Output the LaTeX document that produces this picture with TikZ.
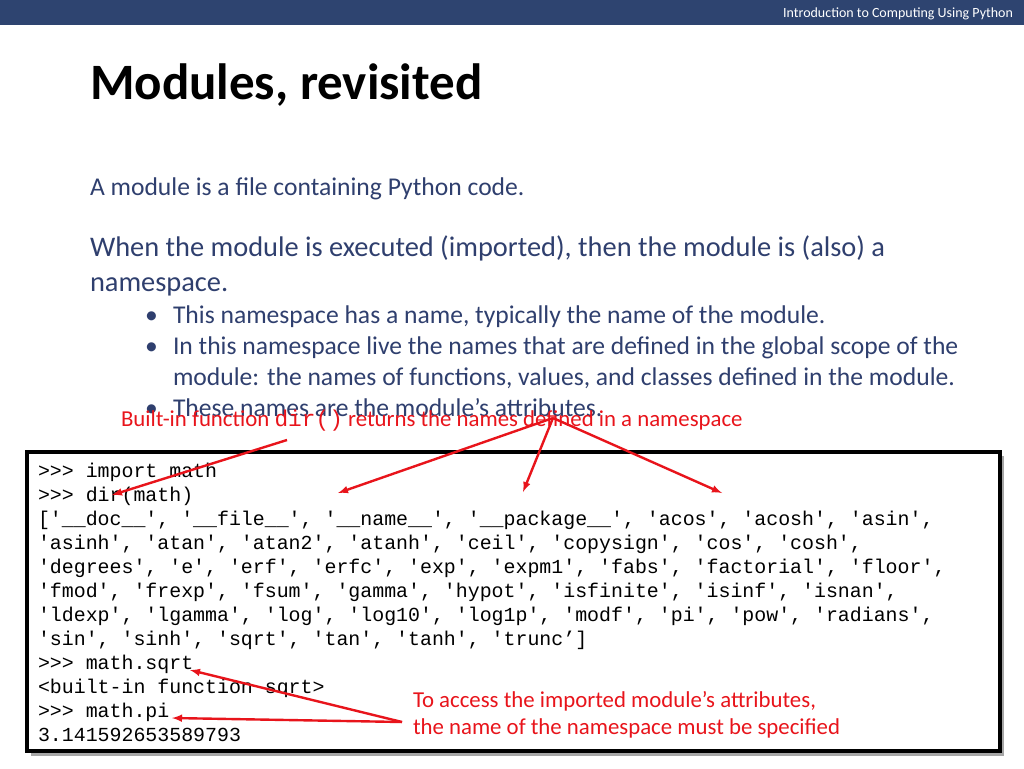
\documentclass[tikz,border=0pt]{standalone}
\usepackage{fontspec}
\setmainfont{Carlito}
\setmonofont{Liberation Mono}
\usetikzlibrary{arrows}
\definecolor{barblue}{HTML}{2E4470}
\definecolor{textblue}{HTML}{2F3F6E}
\definecolor{noteRed}{HTML}{E8141B}
\tikzstyle{slide}=[x=1pt, y=-1pt, inner sep=0pt, outer sep=0pt]
\tikzstyle{body}=[anchor=base west, text=textblue, font=\fontsize{25.6}{30}\selectfont]
\tikzstyle{bodyL}=[body, font=\fontsize{28.4}{33}\selectfont]
\tikzstyle{note}=[anchor=base west, text=noteRed, font=\fontsize{22.8}{27}\selectfont]
\tikzstyle{code}=[anchor=base west, font=\fontsize{19.9}{24}\ttfamily]
\tikzstyle{ptr}=[draw=noteRed, line width=2.4pt, -latex]
\newcommand{\bodyX}{90}
\newcommand{\itemX}{173}
\newcommand{\dotX}{145}
\newcommand{\codeX}{38}
\begin{document}
\begin{tikzpicture}[slide]
	\useasboundingbox (0,0) rectangle (1024,768);
	\fill[barblue] (0,0) rectangle (1024,25);
	\node[anchor=base east, text=white, font=\fontsize{14}{16}\selectfont] (hdr) at (1013,18) {Introduction to Computing Using Python};
	\node[anchor=base west, font=\fontsize{51}{58}\bfseries\selectfont] (title) at (\bodyX,99) {Modules, revisited};
	%%
	\node[body] (p1) at (\bodyX,195) {A module is a file containing Python code.};
	\node[bodyL] (p2a) at (\bodyX,256) {When the module is executed (imported), then the module is (also) a};
	\node[bodyL] (p2b) at (\bodyX,291) {namespace.};
	\node[body] (b1) at (\itemX,323) {This namespace has a name, typically the name of the module.};
	\node[body] (b2a) at (\itemX,354) {In this namespace live the names that are defined in the global scope of the};
	\node[body] (b2b) at (\itemX,385) {module: the names of functions, values, and classes defined in the module.};
	\node[body] (b3) at (\itemX,416) {These names are the module’s attributes.};
	\foreach \y in {323,354,416}
		\node[body] at (\dotX,\y) {\textbullet};
	%%
	\node[note] (lbl) at (121,426) {Built-in function \texttt{dir()} returns the names defined in a namespace};
	%%
	\fill[black!35] (31,456) rectangle (1004,756);
	\draw[line width=4pt, fill=white] (27,452) rectangle (1000,751);
	\node[code] (c1) at (\codeX,477) {>>> import math};
	\node[code] (c2) at (\codeX,501) {>>> dir(math)};
	\node[code] (c3) at (\codeX,525) {['\_\_doc\_\_', '\_\_file\_\_', '\_\_name\_\_', '\_\_package\_\_', 'acos', 'acosh', 'asin',};
	\node[code] (c4) at (\codeX,549) {'asinh', 'atan', 'atan2', 'atanh', 'ceil', 'copysign', 'cos', 'cosh',};
	\node[code] (c5) at (\codeX,573) {'degrees', 'e', 'erf', 'erfc', 'exp', 'expm1', 'fabs', 'factorial', 'floor',};
	\node[code] (c6) at (\codeX,597) {'fmod', 'frexp', 'fsum', 'gamma', 'hypot', 'isfinite', 'isinf', 'isnan',};
	\node[code] (c7) at (\codeX,621) {'ldexp', 'lgamma', 'log', 'log10', 'log1p', 'modf', 'pi', 'pow', 'radians',};
	\node[code] (c8) at (\codeX,645) {'sin', 'sinh', 'sqrt', 'tan', 'tanh', 'trunc’]};
	\node[code] (c9) at (\codeX,669) {>>> math.sqrt};
	\node[code] (c10) at (\codeX,693) {<built-in function sqrt>};
	\node[code] (c11) at (\codeX,717) {>>> math.pi};
	\node[code] (c12) at (\codeX,741) {3.141592653589793};
	%%
	\node[note] (acc1) at (413,707) {To access the imported module’s attributes,};
	\node[note] (acc2) at (413,734) {the name of the namespace must be specified};
	%%
	\coordinate (dirTail) at (287,440);
	\coordinate (attTail) at (553,418);
	\coordinate (accTail) at (402,722);
	\coordinate (dirTip) at (112,495);
	\coordinate (nameTip) at (338,493);
	\coordinate (pkgTip) at (523,492);
	\coordinate (acosTip) at (722,493);
	\coordinate (sqrtTip) at (190,670);
	\coordinate (piTip) at (172,718);
	\draw[ptr] (dirTail) -- (dirTip);
	\draw[ptr] (attTail) -- (nameTip);
	\draw[ptr] (attTail) -- (pkgTip);
	\draw[ptr] (attTail) -- (acosTip);
	\draw[ptr] (accTail) -- (sqrtTip);
	\draw[ptr] (accTail) -- (piTip);
\end{tikzpicture}
\end{document}
